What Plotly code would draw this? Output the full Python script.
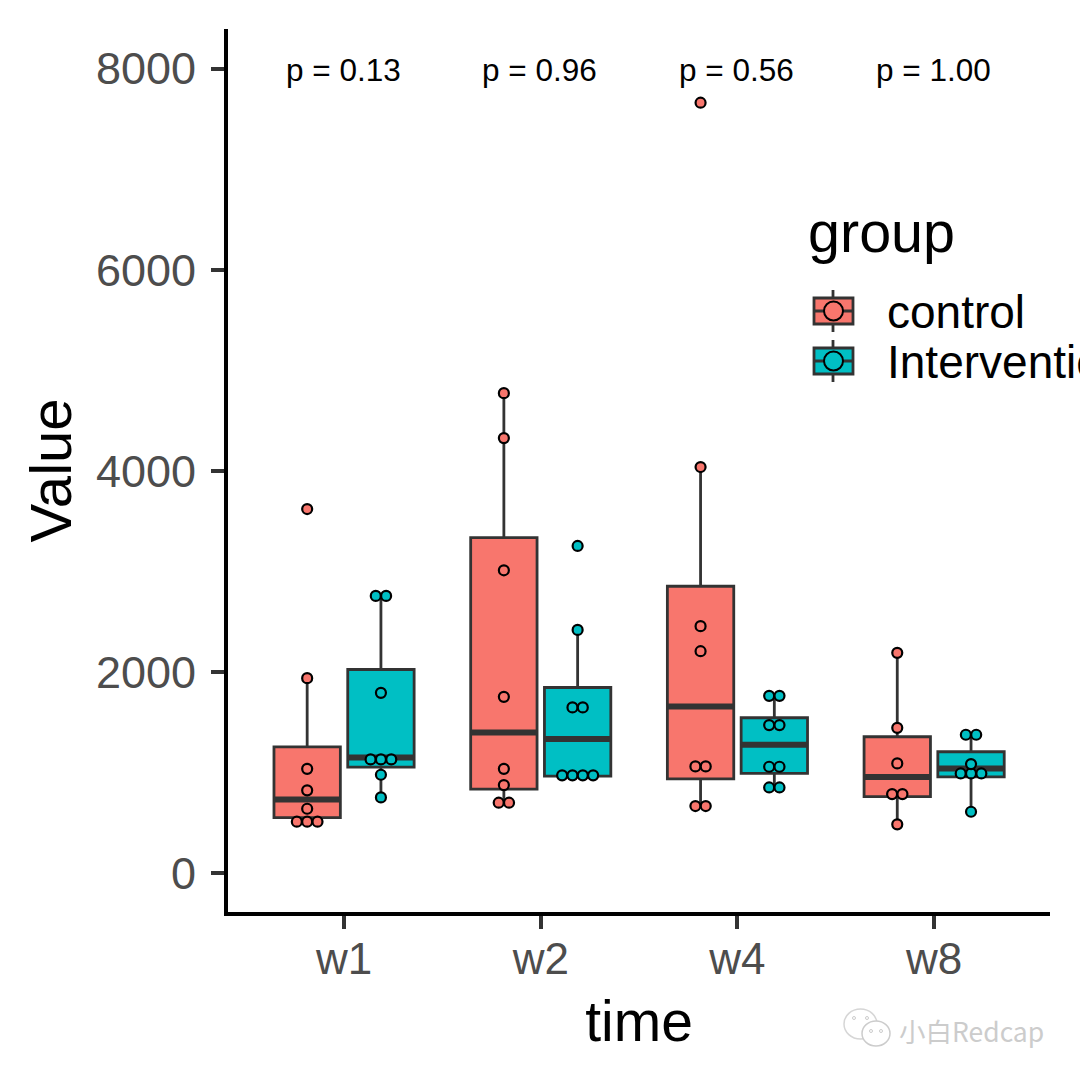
import plotly.graph_objects as go

categories = ["w1", "w2", "w4", "w8"]
groups = ["control", "Intervention"]
p_labels = ["p = 0.13", "p = 0.96", "p = 0.56", "p = 1.00"]
y_ticks = [0, 2000, 4000, 6000, 8000]

control_q1 = [550, 835, 937, 759]
control_median = [732, 1398, 1656, 954]
control_q3 = [1255, 3336, 2852, 1355]
control_low = [510, 699, 666, 484]
control_high = [1938, 4773, 4038, 2190]

interv_q1 = [1053, 964, 990, 957]
interv_median = [1150, 1332, 1275, 1040]
interv_q3 = [2024, 1845, 1544, 1206]
interv_low = [752, 971, 851, 609]
interv_high = [2756, 2418, 1762, 1375]

control_points = [
    [3620, 1938, 1036, 822, 639, 510, 510, 510],
    [4773, 4326, 3011, 1752, 1036, 874, 699, 699],
    [7662, 4038, 2455, 2206, 1060, 1060, 666, 666],
    [2190, 1444, 1090, 785, 785, 484],
]
interv_points = [
    [2756, 2756, 1792, 1130, 1130, 1130, 977, 752],
    [3253, 2418, 1647, 1647, 971, 971, 971, 971],
    [1762, 1762, 1471, 1471, 1057, 1057, 851, 851],
    [1375, 1375, 1083, 990, 990, 990, 609],
]

COLORS = ["#F8766D", "#00BFC4"]
LINE = "#333333"
FONT = "Liberation Sans"
DODGE, BOX_W, DOT_STEP = 0.1875, 0.3375, 0.0525
L, R, T, B = 228, 1050, 29, 912


def px(x):
    return (x - L) / (R - L)


def py(y):
    return (B - y) / (B - T)


fig = go.Figure()
series = [
    (control_q1, control_median, control_q3, control_low, control_high, control_points, -DODGE),
    (interv_q1, interv_median, interv_q3, interv_low, interv_high, interv_points, DODGE),
]
for i, (q1, med, q3, lo, hi, pts, off) in enumerate(series):
    pos = [k + off for k in range(len(categories))]
    fig.add_trace(go.Box(
        x=pos, q1=q1, median=med, q3=q3, lowerfence=lo, upperfence=hi,
        width=BOX_W, whiskerwidth=0, fillcolor=COLORS[i], name=groups[i],
        line=dict(color=LINE, width=2.8), boxpoints=False, showlegend=False,
    ))
    fig.add_trace(go.Box(
        x=pos, q1=med, median=med, q3=med, lowerfence=med, upperfence=med,
        width=BOX_W, whiskerwidth=0, fillcolor=COLORS[i], name=groups[i] + " median",
        line=dict(color=LINE, width=6), boxpoints=False, showlegend=False,
    ))
    xs, ys = [], []
    for k, vals in enumerate(pts):
        for v in sorted(set(vals)):
            n = vals.count(v)
            for j in range(n):
                xs.append(k + off + (j - (n - 1) / 2) * DOT_STEP)
                ys.append(v)
    fig.add_trace(go.Scatter(
        x=xs, y=ys, mode="markers", name=groups[i] + " points", showlegend=False,
        marker=dict(size=10, color=COLORS[i], line=dict(color="black", width=2.2)),
    ))

annotations = [
    dict(x=k, y=7985, xref="x", yref="y", text=t, showarrow=False, xshift=-1,
         font=dict(size=31.5, color="black", family=FONT))
    for k, t in enumerate(p_labels)
]
annotations.append(dict(x=px(806), y=py(232), xref="paper", yref="paper", text="group",
                        xanchor="left", yanchor="middle", showarrow=False,
                        font=dict(size=57.5, color="black", family=FONT)))
shapes = []
for g, cy, col in zip(groups, [311, 361], COLORS):
    annotations.append(dict(x=px(885), y=py(cy + 1), xref="paper", yref="paper", text=g,
                            xanchor="left", yanchor="middle", showarrow=False,
                            font=dict(size=46, color="black", family=FONT)))
    common = dict(xref="paper", yref="paper", layer="above")
    ln = dict(color=LINE, width=2.8)
    shapes += [
        dict(type="line", x0=px(833), x1=px(833), y0=py(cy - 21), y1=py(cy + 21), line=ln, **common),
        dict(type="rect", x0=px(814), x1=px(853), y0=py(cy - 13), y1=py(cy + 13), line=ln, fillcolor=col, **common),
        dict(type="line", x0=px(814), x1=px(853), y0=py(cy), y1=py(cy), line=ln, **common),
        dict(type="circle", x0=px(824), x1=px(843), y0=py(cy - 9.5), y1=py(cy + 9.5),
             line=dict(color="black", width=2), fillcolor=col, **common),
    ]

# watermark
annotations.append(dict(x=px(897), y=py(1030), xref="paper", yref="paper", text="小白Redcap",
                        xanchor="left", yanchor="middle", showarrow=False,
                        font=dict(size=26.5, color="#cccccc", family="Noto Sans CJK SC")))
wm = dict(xref="paper", yref="paper", layer="above")
shapes += [
    dict(type="circle", x0=px(844), x1=px(877), y0=py(1009), y1=py(1039),
         line=dict(color="#d6d6d6", width=1.5), fillcolor="white", **wm),
    dict(type="circle", x0=px(862), x1=px(890), y0=py(1021), y1=py(1046),
         line=dict(color="#cccccc", width=1.5), fillcolor="white", **wm),
]
for cx, cy in [(854, 1018), (867, 1018), (871, 1031), (881, 1031)]:
    shapes.append(dict(type="circle", x0=px(cx - 1.5), x1=px(cx + 1.5), y0=py(cy - 1.5), y1=py(cy + 1.5),
                       line=dict(color="#cccccc", width=1), fillcolor="white", **wm))

fig.update_layout(
    width=1080, height=1080, autosize=False,
    margin=dict(l=L, r=1080 - R, t=T, b=1080 - B, pad=0),
    paper_bgcolor="white", plot_bgcolor="white", showlegend=False,
    boxmode="overlay", annotations=annotations, shapes=shapes,
    font=dict(family=FONT),
    xaxis=dict(
        range=[-0.59, 3.589], tickmode="array", tickvals=list(range(len(categories))),
        ticktext=categories, showgrid=False, zeroline=False,
        showline=True, linecolor="black", linewidth=4,
        ticks="outside", ticklen=13, tickwidth=4, tickcolor="#333333", ticklabelstandoff=-8,
        tickfont=dict(size=44, color="#4D4D4D", family=FONT),
        title=dict(text="time", font=dict(size=57, color="black", family=FONT), standoff=20),
    ),
    yaxis=dict(
        range=[-388, 8395], tickmode="array", tickvals=y_ticks,
        showgrid=False, zeroline=False,
        showline=True, linecolor="black", linewidth=4,
        ticks="outside", ticklen=13, tickwidth=4, tickcolor="#333333", ticklabelstandoff=6,
        tickfont=dict(size=45, color="#4D4D4D", family=FONT),
        title=dict(text="Value", font=dict(size=58, color="black", family=FONT), standoff=7),
    ),
)

fig.write_html("out.html", config={"displayModeBar": False},
               post_script="document.body.style.margin='0';document.documentElement.style.overflow='hidden';")
